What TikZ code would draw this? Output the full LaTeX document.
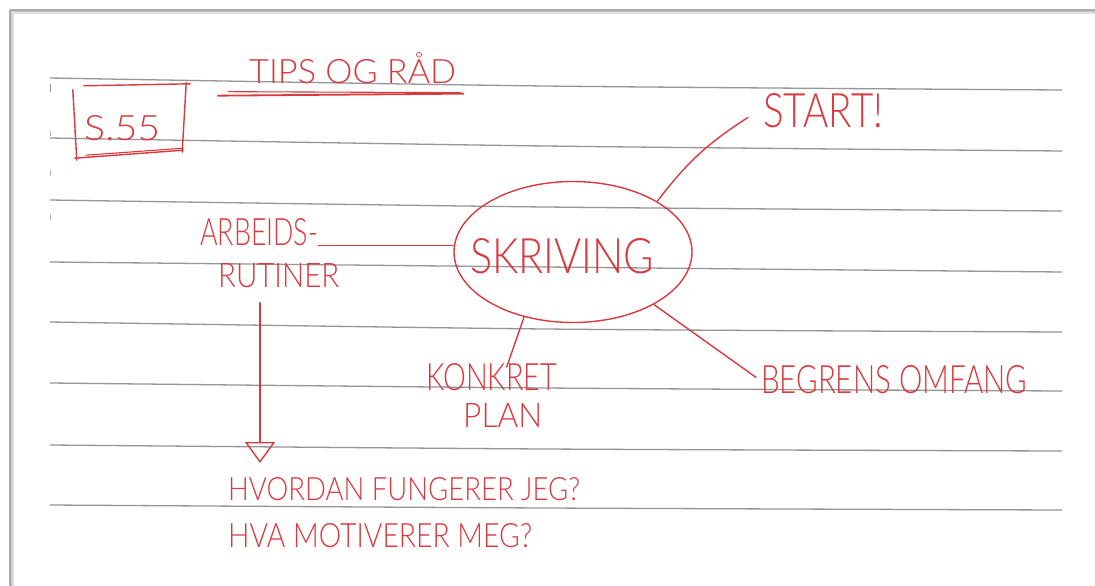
\documentclass[tikz,border=0pt]{standalone}
\usepackage{fontspec}
\usepackage{graphicx}
\IfFontExistsTF{Lato Light}{\newfontfamily\hand{Lato Light}}{\newfontfamily\hand{Fira Sans}}
\usetikzlibrary{arrows.meta,shapes.geometric,calc}
\definecolor{ink}{RGB}{216,58,62}
\definecolor{rulegray}{RGB}{150,150,150}
\newcommand\hw[3]{\resizebox{#1pt}{#2pt}{\hand #3}}
\tikzset{
  inkline/.style={draw=ink, line width=1.4pt, line cap=round, line join=round},
  txt/.style={inner sep=0pt, anchor=north west, text=ink},
  ruled/.style={draw=rulegray, line width=1.3pt},
  tick/.style={draw=rulegray!70, line width=1.2pt},
}
\begin{document}
\begin{tikzpicture}[x=1pt,y=-1pt]
\useasboundingbox (0,0) rectangle (1095,586);
\fill[white] (0,0) rectangle (1095,586);
% paper frame with soft shadow
\draw[gray!25, line width=1.5pt] (13,13) -- (1095,13);
\draw[gray!25, line width=1.5pt] (13,13) -- (13,586);
\draw[gray!45, line width=1.2pt] (11.5,11.5) -- (1095,11.5);
\draw[gray!45, line width=1.2pt] (11.5,11.5) -- (11.5,586);
\draw[gray!65, line width=1.2pt] (10,10) -- (1095,10);
\draw[gray!65, line width=1.2pt] (10,10) -- (10,586);
% ruled lines
\foreach \a/\b/\c in {78/86/90,138/146/151,200/207/211,262/267/272,322/329/332,383/388/391,445/449/451,505/508/510}{
  \draw[ruled] plot[smooth] coordinates {(50,\a) (545,\b) (1062,\c)};
}
% margin ticks
\draw[tick, draw=rulegray] (50.5,84) -- (50.5,92);
\draw[tick] (50.5,131) -- (50.5,136);
\draw[tick] (50.5,170) -- (50.5,176);
\draw[tick] (50.5,214) -- (50.5,220);

% title
\node[txt] (title) at (249,52) {\hw{207}{31}{TIPS OG RÅD}};
\draw[inkline, line width=1.8pt] ($(title.south west)+(-31,12)$) -- ($(title.south east)+(7,10)$);
\draw[inkline, line width=1.1pt] ($(title.south west)+(-21,8)$) -- ($(title.south east)+(4,9)$);

% page reference box
\node[txt] (s55) at (84,115) {\hw{76}{25}{S.55}};
\node[inner sep=0pt, minimum width=114pt, minimum height=74pt] (box) at (131,121) {};
\draw[inkline] ($(box.north west)+(10,2)$) -- ($(box.north east)+(2,0)$);
\draw[inkline] ($(box.north west)+(-1,6)$) -- ($(box.south west)+(3,2)$);
\draw[inkline] ($(box.north east)+(-2,-1)$) -- ($(box.south east)+(-6,-6)$);
\draw[inkline] ($(box.south west)+(1,0)$) -- ($(box.south east)+(-5,-8)$);
\draw[inkline, line width=1.1pt] ($(box.south west)+(12,-3)$) -- ($(box.south east)+(-5,-10)$);

% central ellipse
\node[ellipse, draw=ink, line width=1.4pt, minimum width=238pt, minimum height=141pt, inner sep=0pt] (skriving) at (573,252) {};
\node[txt] (skrivingtxt) at (470,238) {\hw{184}{35}{SKRIVING}};

% branches
\node[txt] (arbeids) at (200,218) {\hw{118}{27}{ARBEIDS-}};
\node[txt] (rutiner) at (218,263) {\hw{121}{24}{RUTINER}};
\node[txt] (start) at (763,93) {\hw{120}{34}{START!}};
\node[txt] (begrens) at (761,365) {\hw{266}{28}{BEGRENS OMFANG}};
\node[txt] (konkret) at (426,363) {\hw{131}{27}{KONKRET}};
\node[txt] (plan) at (463,403) {\hw{79}{24}{PLAN}};
\node[txt] (hvordan) at (228,477) {\hw{352}{23}{HVORDAN FUNGERER JEG?}};
\node[txt] (hva) at (228,523) {\hw{304}{24}{HVA MOTIVERER MEG?}};

\draw[inkline] (arbeids.south east) -- (arbeids.south east -| skriving.west);
\draw[inkline] (skriving.31) to[bend left=10] ($(start.west)+(-15,7)$);
\draw[inkline] (skriving.-33) -- ($(begrens.west)+(-5,-2)$);
\draw[inkline] (skriving.-127) -- ($(konkret.north)+(15,4)$);
\coordinate (arrowstart) at ($(rutiner.south west)+(42,15)$);
\draw[inkline, -{Triangle[open, width=30pt, length=21pt, line width=1.4pt]}] (arrowstart) -- ($(hvordan.north west)+(32,-14)$);
\end{tikzpicture}
\end{document}
